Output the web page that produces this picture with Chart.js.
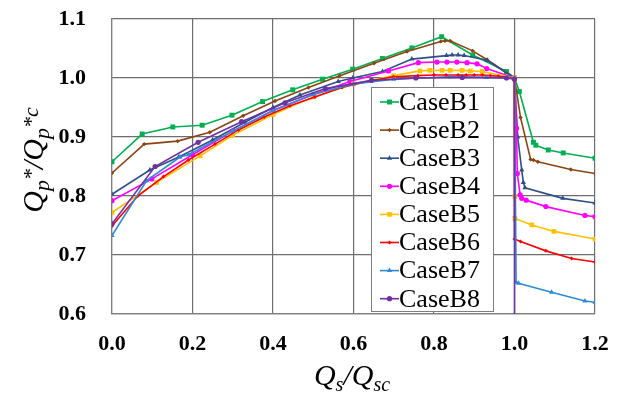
<!DOCTYPE html>
<html>
<head>
<meta charset="utf-8">
<script src="https://cdn.jsdelivr.net/npm/chart.js@4.4.1/dist/chart.umd.min.js"></script>
<style>
  html, body { margin: 0; padding: 0; background: #fff; }
  #wrap { width: 619px; height: 394px; }
</style>
</head>
<body>
<div id="wrap"><canvas id="c" width="619" height="394"></canvas></div>
<script>
// values (Qs/Qsc on x, Qp*/Qp*c on y)
const caseNames = ['CaseB1', 'CaseB2', 'CaseB3', 'CaseB4', 'CaseB5', 'CaseB6', 'CaseB7', 'CaseB8'];
const caseColors = ['#00b050', '#8b4513', '#2f4f8a', '#ff00ff', '#ffc000', '#ff0000', '#2e8ad8', '#7030a0'];

const b1X = [0, 0.075, 0.151, 0.224, 0.298, 0.374, 0.449, 0.523, 0.598, 0.672, 0.745, 0.819, 0.896, 0.98, 1.0, 1.012, 1.047, 1.053, 1.084, 1.121, 1.2];
const b1Y = [0.858, 0.905, 0.917, 0.920, 0.937, 0.960, 0.980, 0.998, 1.015, 1.033, 1.051, 1.070, 1.039, 1.011, 1.0, 0.977, 0.891, 0.886, 0.878, 0.873, 0.864];

const b2X = [0, 0.08, 0.163, 0.243, 0.326, 0.405, 0.488, 0.566, 0.651, 0.733, 0.817, 0.827, 0.84, 0.896, 0.932, 1.0, 1.015, 1.04, 1.047, 1.058, 1.14, 1.2];
const b2Y = [0.839, 0.888, 0.893, 0.908, 0.936, 0.961, 0.984, 1.004, 1.025, 1.045, 1.062, 1.063, 1.063, 1.046, 1.031, 1.0, 0.933, 0.862, 0.861, 0.858, 0.845, 0.838];

const b3X = [0, 0.094, 0.166, 0.25, 0.33, 0.4, 0.467, 0.562, 0.598, 0.672, 0.745, 0.831, 0.845, 0.86, 0.875, 0.932, 1.0, 1.008, 1.018, 1.022, 1.026, 1.12, 1.2];
const b3Y = [0.803, 0.844, 0.866, 0.895, 0.925, 0.95, 0.971, 0.994, 1.0, 1.011, 1.032, 1.038, 1.039, 1.039, 1.038, 1.03, 1.0, 0.9, 0.844, 0.823, 0.814, 0.796, 0.788];

const b4X = [0, 0.099, 0.2, 0.3, 0.4, 0.5, 0.591, 0.687, 0.761, 0.807, 0.832, 0.857, 0.882, 0.907, 0.931, 1.0, 1.005, 1.007, 1.014, 1.018, 1.029, 1.078, 1.175, 1.2];
const b4Y = [0.792, 0.829, 0.87, 0.91, 0.945, 0.972, 0.994, 1.012, 1.026, 1.027, 1.027, 1.027, 1.026, 1.024, 1.016, 1.0, 0.915, 0.838, 0.802, 0.796, 0.793, 0.782, 0.767, 0.765];

const b5X = [0, 0.111, 0.219, 0.3, 0.4, 0.5, 0.6, 0.7, 0.765, 0.79, 0.82, 0.84, 0.87, 0.89, 0.92, 1.0, 1.001, 1.001, 1.043, 1.098, 1.2];
const b5Y = [0.772, 0.823, 0.868, 0.903, 0.938, 0.968, 0.99, 1.004, 1.012, 1.013, 1.013, 1.013, 1.013, 1.012, 1.011, 1.0, 0.799, 0.762, 0.751, 0.740, 0.727];

const b6X = [0, 0.064, 0.128, 0.19, 0.256, 0.314, 0.378, 0.442, 0.504, 0.571, 0.64, 0.699, 0.76, 0.8, 0.83, 0.86, 0.88, 0.9, 0.92, 0.94, 0.96, 0.999, 1.0, 1.015, 1.078, 1.142, 1.2];
const b6Y = [0.749, 0.8, 0.833, 0.861, 0.888, 0.912, 0.934, 0.953, 0.968, 0.984, 0.995, 1.002, 1.004, 1.005, 1.005, 1.005, 1.005, 1.005, 1.005, 1.004, 1.003, 1.0, 0.727, 0.723, 0.707, 0.694, 0.688];

const b7X = [0, 0.086, 0.169, 0.19, 0.3, 0.4, 0.5, 0.6, 0.7, 0.84, 0.93, 1.0, 1.004, 1.01, 1.092, 1.175, 1.2];
const b7Y = [0.733, 0.826, 0.866, 0.870, 0.91, 0.945, 0.972, 0.99, 0.998, 1.002, 1.001, 1.0, 0.654, 0.652, 0.637, 0.622, 0.620];

const b8X = [0, 0.107, 0.214, 0.322, 0.43, 0.53, 0.645, 0.755, 0.87, 0.98, 1.0, 1.0];
const b8Y = [0.753, 0.85, 0.891, 0.926, 0.958, 0.982, 0.996, 1.0, 1.001, 1.0, 0.998, 0.5];

const xTickValues = [0, 0.2, 0.4, 0.6, 0.8, 1.0, 1.2];
const yTickValues = [0.6, 0.7, 0.8, 0.9, 1.0, 1.1];

const seriesX = [b1X, b2X, b3X, b4X, b5X, b6X, b7X, b8X];
const seriesY = [b1Y, b2Y, b3Y, b4Y, b5Y, b6Y, b7Y, b8Y];
const markerStyle = ['rect', 'rectRot', 'triangle', 'circle', 'rect', 'rectRot', 'triangle', 'circle'];
const markerSize = [3.5, 2.2, 3, 2.6, 3.3, 2, 3, 2.6];

const serif = '"Liberation Serif", "Times New Roman", serif';

const datasets = caseNames.map((name, i) => ({
  label: name,
  data: seriesX[i].map((x, j) => ({ x: x, y: seriesY[i][j] })),
  showLine: true,
  borderColor: caseColors[i],
  backgroundColor: caseColors[i],
  borderWidth: 1.6,
  pointStyle: markerStyle[i],
  pointRadius: markerSize[i],
  pointBorderWidth: 0,
  order: caseNames.length - 1 - i
}));

// rich text with sub/superscripts, centred at (cx, baseline)
function drawRich(ctx, parts, cx, baseY) {
  let total = 0;
  parts.forEach(p => {
    ctx.font = 'italic ' + p.s + 'px ' + serif;
    p.w = ctx.measureText(p.t).width;
    total += p.w;
  });
  let x = cx - total / 2;
  ctx.textAlign = 'left';
  ctx.textBaseline = 'alphabetic';
  parts.forEach(p => {
    ctx.font = 'italic ' + p.s + 'px ' + serif;
    ctx.fillText(p.t, x, baseY + (p.dy || 0));
    x += p.w;
  });
}

function marker(ctx, style, x, y, r, color) {
  ctx.fillStyle = color;
  ctx.beginPath();
  if (style === 'rect') {
    const s = r * Math.SQRT1_2;
    ctx.rect(x - s, y - s, 2 * s, 2 * s);
  } else if (style === 'rectRot') {
    ctx.moveTo(x - r, y); ctx.lineTo(x, y - r); ctx.lineTo(x + r, y); ctx.lineTo(x, y + r);
  } else if (style === 'triangle') {
    ctx.moveTo(x, y - r); ctx.lineTo(x + r * 0.87, y + r * 0.5); ctx.lineTo(x - r * 0.87, y + r * 0.5);
  } else {
    ctx.arc(x, y, r, 0, Math.PI * 2);
  }
  ctx.closePath();
  ctx.fill();
}

const decor = {
  id: 'decor',
  afterDraw(chart) {
    const ctx = chart.ctx;
    ctx.save();
    ctx.fillStyle = '#000';
    // x axis title  Qs/Qsc
    drawRich(ctx, [
      { t: 'Q', s: 30 }, { t: 's', s: 20, dy: 6 }, { t: '/', s: 30 },
      { t: 'Q', s: 30 }, { t: 'sc', s: 20, dy: 6 }
    ], 352, 385);
    // y axis title  Qp*/Qp*c
    ctx.translate(43, 160);
    ctx.rotate(-Math.PI / 2);
    drawRich(ctx, [
      { t: 'Q', s: 30 }, { t: 'p', s: 22, dy: 6 }, { t: '*', s: 22, dy: -5 }, { t: '/', s: 30 },
      { t: 'Q', s: 30 }, { t: 'p', s: 22, dy: 6 }, { t: '*c', s: 22, dy: -5 }
    ], 0, 0);
    ctx.restore();

    // legend box inside the plot
    ctx.save();
    const bx = 371, by = 87, bw = 122, bh = 224;
    ctx.fillStyle = '#fff';
    ctx.fillRect(bx, by, bw, bh);
    ctx.strokeStyle = '#7f7f7f';
    ctx.lineWidth = 1;
    ctx.strokeRect(bx + 0.5, by + 0.5, bw, bh);
    ctx.font = '26px ' + serif;
    ctx.textBaseline = 'middle';
    ctx.textAlign = 'left';
    chart.data.datasets.forEach((ds, i) => {
      const y = by + 15 + i * 28.1;
      ctx.strokeStyle = ds.borderColor;
      ctx.lineWidth = 1.6;
      ctx.beginPath();
      ctx.moveTo(bx + 9, y);
      ctx.lineTo(bx + 28, y);
      ctx.stroke();
      marker(ctx, ds.pointStyle, bx + 18.5, y, ds.pointRadius, ds.borderColor);
      ctx.fillStyle = '#000';
      ctx.fillText(ds.label, bx + 28, y + 1);
    });
    ctx.restore();
  }
};

new Chart(document.getElementById('c'), {
  type: 'scatter',
  data: { datasets: datasets },
  options: {
    responsive: false,
    animation: false,
    layout: { padding: { top: 19, right: 24, left: 0, bottom: 0 } },
    plugins: { legend: { display: false }, tooltip: { enabled: false } },
    scales: {
      x: {
        type: 'linear', min: 0, max: 1.2,
        afterBuildTicks: s => { s.ticks = xTickValues.map(v => ({ value: v })); },
        afterFit: s => { s.height = 80; s.paddingLeft = 0; s.paddingRight = 0; s.paddingTop = 0; s.paddingBottom = 0; },
        grid: { color: '#6e6e6e', lineWidth: 1.2, drawTicks: false },
        border: { color: '#7f7f7f', width: 1.2 },
        ticks: {
          padding: 17, color: '#000',
          font: { family: serif, size: 22, weight: 'bold' },
          callback: v => Number(v).toFixed(1)
        }
      },
      y: {
        type: 'linear', min: 0.6, max: 1.1,
        afterBuildTicks: s => { s.ticks = yTickValues.map(v => ({ value: v })); },
        afterFit: s => { s.width = 112; s.paddingLeft = 0; s.paddingRight = 0; s.paddingTop = 0; s.paddingBottom = 0; },
        grid: { color: '#6e6e6e', lineWidth: 1.2, drawTicks: false },
        border: { color: '#7f7f7f', width: 1.2 },
        ticks: {
          padding: 26, color: '#000',
          font: { family: serif, size: 22, weight: 'bold' },
          callback: v => Number(v).toFixed(1)
        }
      }
    }
  },
  plugins: [decor]
});
</script>
</body>
</html>
